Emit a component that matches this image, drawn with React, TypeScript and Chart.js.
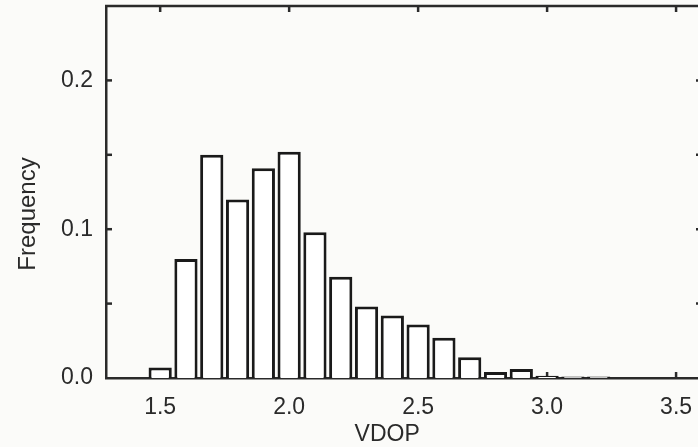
import React, { useEffect, useRef } from "react";
import { Chart, registerables } from "chart.js";

Chart.register(...registerables);

const bins = [1.5, 1.6, 1.7, 1.8, 1.9, 2.0, 2.1, 2.2, 2.3, 2.4, 2.5, 2.6, 2.7, 2.8, 2.9, 3.0, 3.1, 3.2];
const freq = [0.007, 0.08, 0.15, 0.12, 0.141, 0.152, 0.098, 0.068, 0.048, 0.042, 0.036, 0.027, 0.014, 0.004, 0.006, 0.0015, 0.001, 0.001];
const xTicks = [1.5, 2.0, 2.5, 3.0, 3.5];
const yTicks = [0.0, 0.1, 0.2];
const yMinorTicks = [0.05, 0.1, 0.15, 0.2];
const xTitle = "VDOP";
const yTitle = "Frequency";

const FONT = "'Liberation Sans', Arial, Helvetica, sans-serif";
const INK = "#2a2a2a";

const zeroPad = (s: any) => {
  s.paddingTop = 0;
  s.paddingBottom = 0;
  s.paddingLeft = 0;
  s.paddingRight = 0;
};

const framePlugin = {
  id: "frame",
  beforeDraw(chart: any) {
    const { ctx, width, height } = chart;
    ctx.save();
    ctx.fillStyle = "#fbfbf9";
    ctx.fillRect(0, 0, width, height);
    ctx.restore();
  },
  beforeDatasetsDraw(chart: any) {
    const { ctx, chartArea, scales } = chart;
    ctx.save();
    ctx.strokeStyle = INK;
    ctx.lineWidth = 2.5;
    xTicks.forEach((v) => {
      const x = scales.x.getPixelForValue(v);
      ctx.beginPath();
      ctx.moveTo(x, chartArea.bottom);
      ctx.lineTo(x, chartArea.bottom - 6);
      ctx.stroke();
    });
    ctx.restore();
  },
  afterDraw(chart: any) {
    const { ctx, chartArea, scales } = chart;
    ctx.save();
    ctx.strokeStyle = INK;
    ctx.lineWidth = 2.5;
    ctx.beginPath();
    ctx.moveTo(chartArea.left - 1, chartArea.top);
    ctx.lineTo(chartArea.right + 2, chartArea.top);
    ctx.stroke();
    xTicks.forEach((v) => {
      const x = scales.x.getPixelForValue(v);
      ctx.beginPath();
      ctx.moveTo(x, chartArea.top);
      ctx.lineTo(x, chartArea.top + 6);
      ctx.stroke();
    });
    yMinorTicks.forEach((v) => {
      const y = scales.y.getPixelForValue(v);
      ctx.beginPath();
      ctx.moveTo(chartArea.left, y);
      ctx.lineTo(chartArea.left + 6, y);
      ctx.stroke();
      // right-axis inward ticks, mostly off the cropped edge
      ctx.beginPath();
      ctx.moveTo(chartArea.right + 4, y);
      ctx.lineTo(chartArea.right - 2, y);
      ctx.stroke();
    });
    ctx.fillStyle = INK;
    ctx.font = `23px ${FONT}`;
    ctx.textAlign = "center";
    ctx.textBaseline = "middle";
    ctx.fillText(xTitle, scales.x.getPixelForValue(2.38), 435);
    ctx.font = `24px ${FONT}`;
    ctx.translate(28, 214);
    ctx.rotate(-Math.PI / 2);
    ctx.fillText(yTitle, 0, 0);
    ctx.restore();
  },
};

export default function App() {
  const ref = useRef<HTMLCanvasElement | null>(null);
  useEffect(() => {
    if (!ref.current) return;
    const chart = new Chart(ref.current, {
      type: "bar",
      data: {
        datasets: [
          {
            data: bins.map((b, i) => ({ x: b, y: freq[i] })),
            backgroundColor: "#ffffff",
            borderColor: "#1a1a1a",
            borderWidth: 3,
            barPercentage: 0.9,
            categoryPercentage: 1.0,
          },
        ],
      },
      options: {
        animation: false,
        responsive: true,
        maintainAspectRatio: false,
        layout: { padding: { top: 6, right: 0, left: 0, bottom: 0 } },
        plugins: {
          legend: { display: false },
          tooltip: { enabled: false },
          title: { display: false },
        },
        scales: {
          x: {
            type: "linear",
            min: 1.29,
            max: 3.585,
            offset: false,
            grid: { display: false, drawTicks: false },
            border: { display: true, color: INK, width: 2.5 },
            afterBuildTicks: (s: any) => {
              s.ticks = xTicks.map((v) => ({ value: v }));
            },
            afterFit: (s: any) => {
              s.height = 69;
              zeroPad(s);
            },
            ticks: {
              padding: 16,
              color: INK,
              font: { family: FONT, size: 23 },
              callback: (v: any) => Number(v).toFixed(1),
              maxRotation: 0,
              autoSkip: false,
            },
          },
          y: {
            type: "linear",
            min: 0,
            max: 0.25,
            grid: { display: false, drawTicks: false },
            border: { display: true, color: INK, width: 2.5 },
            afterBuildTicks: (s: any) => {
              s.ticks = yTicks.map((v) => ({ value: v }));
            },
            afterFit: (s: any) => {
              s.width = 106;
              zeroPad(s);
            },
            ticks: {
              padding: 13,
              color: INK,
              font: { family: FONT, size: 23 },
              callback: (v: any) => Number(v).toFixed(1),
            },
          },
        },
      },
      plugins: [framePlugin],
    });
    return () => chart.destroy();
  }, []);
  return (
    <div style={{ position: "fixed", left: 0, top: 0, width: 698, height: 447, overflow: "hidden" }}>
      <canvas ref={ref} />
    </div>
  );
}
